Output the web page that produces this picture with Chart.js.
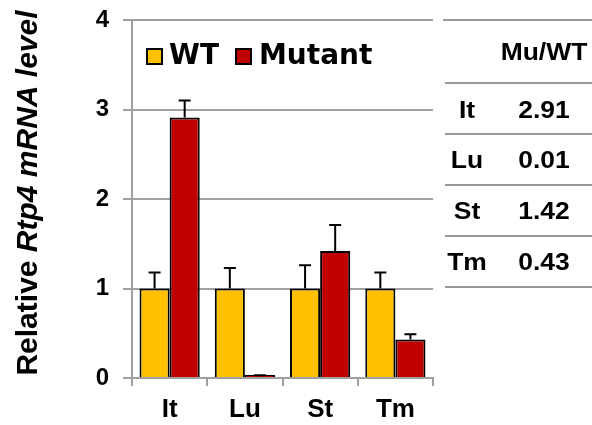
<!DOCTYPE html>
<html><head><meta charset="utf-8">
<script src="https://cdn.jsdelivr.net/npm/chart.js@4/dist/chart.umd.min.js"></script>
<style>
html,body{margin:0;padding:0;background:#fff;}
#wrap{position:relative;width:592px;height:425px;font-family:"Liberation Sans",Arial,sans-serif;}
canvas{position:absolute;left:0;top:0;}
.sw{position:absolute;width:13px;height:13px;border:2px solid #000;}
.lt{position:absolute;font-family:"DejaVu Sans",Verdana,sans-serif;font-weight:bold;font-size:28px;line-height:1;color:#000;white-space:nowrap;}
#tbl{position:absolute;left:443px;top:19px;width:149px;font-weight:bold;color:#000;}
#tbl .hl{position:absolute;left:0;right:0;height:2px;background:#999;}
#tbl .cell{position:absolute;text-align:center;transform:translate(-50%,-50%) scaleX(1.15);white-space:nowrap;}
</style></head>
<body><div id="wrap"><canvas id="c" width="592" height="425"></canvas><div id="tbl"></div></div>
<script>
const categories = ["It","Lu","St","Tm"];
const seriesNames = ["WT","Mutant"];
const wtValues = [1,1,1,1];
const mutantValues = [2.91,0.01,1.42,0.43];
const wtErrors = [0.18,0.23,0.26,0.18];
const mutantErrors = [0.19,0.02,0.29,0.06];
const yTicks = [0,1,2,3,4];
const tableHeader = "Mu/WT";
const ratios = ["2.91","0.01","1.42","0.43"];
const colors = ["#FFC000","#C00000"];

const FONT = '"Liberation Sans", Arial, sans-serif';

const errorBars = {
  id:'errorBars',
  afterDatasetsDraw(chart){
    const ctx = chart.ctx, ys = chart.scales.y;
    chart.data.datasets.forEach((ds,i)=>{
      const meta = chart.getDatasetMeta(i);
      meta.data.forEach((el,j)=>{
        const top = ys.getPixelForValue(ds.data[j] + ds.errors[j]);
        ctx.save();
        ctx.strokeStyle='#000'; ctx.lineWidth=2;
        ctx.beginPath();
        ctx.moveTo(el.x, el.y); ctx.lineTo(el.x, top);
        ctx.moveTo(el.x-6, top); ctx.lineTo(el.x+6, top);
        ctx.stroke();
        ctx.restore();
      });
    });
  }
};

const yTitle = {
  id:'yTitle',
  afterDraw(chart){
    const ctx = chart.ctx;
    const parts = [["Relative ", "bold 30px "+FONT],["Rtp4 mRNA level","italic bold 30px "+FONT]];
    let total = 0;
    parts.forEach(p=>{ctx.font=p[1]; total+=ctx.measureText(p[0]).width;});
    ctx.save();
    ctx.translate(37, 193);
    ctx.rotate(-Math.PI/2);
    ctx.fillStyle='#000'; ctx.textBaseline='alphabetic';
    let x = -total/2;
    parts.forEach(p=>{ctx.font=p[1]; ctx.fillText(p[0], x, 0); x+=ctx.measureText(p[0]).width;});
    ctx.restore();
  }
};

const chart = new Chart(document.getElementById('c'), {
  type:'bar',
  data:{
    labels:categories,
    datasets:[
      {label:seriesNames[0], data:wtValues, errors:wtErrors, backgroundColor:colors[0], borderColor:'#000', borderWidth:2, borderSkipped:'bottom', categoryPercentage:0.8, barPercentage:1.0},
      {label:seriesNames[1], data:mutantValues, errors:mutantErrors, backgroundColor:colors[1], borderColor:'#000', borderWidth:2, borderSkipped:'bottom', categoryPercentage:0.8, barPercentage:1.0, minBarLength:3}
    ]
  },
  options:{
    responsive:false, animation:false, devicePixelRatio:1,
    layout:{padding:{left:0,right:159,top:20,bottom:0}},
    plugins:{legend:{display:false}, tooltip:{enabled:false}},
    scales:{
      x:{
        grid:{drawOnChartArea:false, drawTicks:true, tickLength:8, color:'#a0a0a0', lineWidth:2, offset:true},
        border:{color:'#a0a0a0', width:2},
        ticks:{color:'#000', font:{family:FONT, size:26, weight:'bold'}, padding:8},
        afterFit(s){ s.height = 425-378; s.paddingLeft = 0; s.paddingRight = 0; }
      },
      y:{
        min:0, max:4,
        afterBuildTicks(s){ s.ticks = yTicks.map(v=>({value:v})); },
        grid:{color:'#a0a0a0', lineWidth:2, tickLength:9},
        border:{color:'#a0a0a0', width:2},
        ticks:{color:'#000', font:{family:FONT, size:24, weight:'bold'}, padding:14},
        afterFit(s){ s.width = 132; s.paddingTop = 0; s.paddingBottom = 0; }
      }
    }
  },
  plugins:[errorBars, yTitle]
});

// legend
const wrap = document.getElementById('wrap');
const legendPos = [[146,48,171],[235,48,261]];
seriesNames.forEach((n,i)=>{
  const b=document.createElement('div'); b.className='sw';
  b.style.left=legendPos[i][0]+'px'; b.style.top=legendPos[i][1]+'px'; b.style.background=colors[i];
  wrap.appendChild(b);
  const t=document.createElement('div'); t.className='lt'; t.textContent=n;
  t.style.left=(legendPos[i][2]-2)+'px'; t.style.top='41px';
  wrap.appendChild(t);
});
// table
const tb = document.getElementById('tbl');
const lineYs=[0,63,114,165,216,267];
lineYs.forEach((y,k)=>{const l=document.createElement('div');l.className='hl';l.style.top=y+'px';l.style.left=(k===0?0:2)+'px';tb.appendChild(l);});
function cell(txt,x,y,size){const c=document.createElement('div');c.className='cell';c.textContent=txt;c.style.left=x+'px';c.style.top=y+'px';c.style.fontSize=size+'px';tb.appendChild(c);}
cell(tableHeader,101,33,23);
const rowYs=[91,141,192,243];
categories.forEach((c,i)=>{
  cell(c,24,rowYs[i],23);
  cell(ratios[i],101,rowYs[i],23);
});
</script></body></html>
